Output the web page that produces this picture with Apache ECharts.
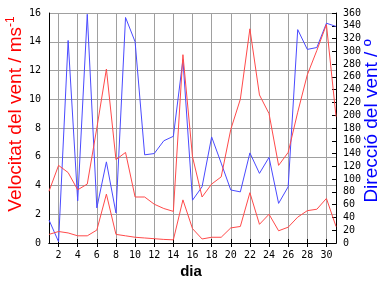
<!DOCTYPE html>
<html><head><meta charset="utf-8">
<script src="https://cdn.jsdelivr.net/npm/echarts@6/dist/echarts.min.js"></script>
<style>html,body{margin:0;padding:0;background:#fff}#c{width:384px;height:288px}</style>
</head><body><div id="c"></div>
<script>
// Day of month
const days = [1,2,3,4,5,6,7,8,9,10,11,12,13,14,15,16,17,18,19,20,21,22,23,24,25,26,27,28,29,30,31];
// Maximum wind speed (m/s)
const maxWind = [3.6,5.4,4.9,3.7,4.1,8.0,12.1,5.8,6.3,3.2,3.2,2.7,2.4,2.2,13.1,6.0,3.2,4.1,4.6,7.9,10.0,14.9,10.3,9.0,5.4,6.3,9.1,11.7,13.4,15.2,8.8];
// Mean wind speed (m/s)
const meanWind = [0.6,0.8,0.7,0.5,0.5,0.9,3.4,0.6,0.5,0.4,0.35,0.3,0.25,0.22,3.0,1.0,0.28,0.4,0.4,1.05,1.15,3.5,1.3,2.0,0.85,1.1,1.8,2.25,2.35,3.1,1.15];
// Wind direction (degrees)
const direction = [36,2,317,66,358,55,127,47,353,315,138,140,160,167,287,67,88,166,125,83,80,141,109,134,62,88,334,303,306,344,339];

const leftTitle = 'Velocitat del vent / ms';
const leftTitleSup = '-1';
const rightTitle = 'Direcció del vent / º';
const xTitle = 'dia';

const RED = '#ff4a4a', BLUE = '#4a4aff', GRIDC = '#a0a0a0';
const even = (i, v) => Number(v) % 2 === 0;
const mono = 'DejaVu Sans Mono';

const chart = echarts.init(document.getElementById('c'), null, {renderer: 'canvas'});
chart.setOption({
  animation: false,
  backgroundColor: '#fff',
  grid: {left: 49, right: 48, top: 13, bottom: 45, containLabel: false},
  xAxis: [{
    type: 'category', data: days, boundaryGap: false, position: 'bottom',
    axisLine: {show: true, lineStyle: {color: '#000', width: 1}},
    axisTick: {show: true, inside: true, length: 4, interval: even, lineStyle: {color: '#000'}},
    axisLabel: {interval: even, color: '#000', fontFamily: mono, fontSize: 10, margin: 7},
    splitLine: {show: true, interval: even, lineStyle: {color: GRIDC, width: 1}}
  }, {
    type: 'category', data: days, boundaryGap: false, position: 'top',
    axisLine: {show: true, lineStyle: {color: '#000', width: 1}},
    axisTick: {show: true, inside: true, length: 4, interval: even, lineStyle: {color: '#000'}},
    axisLabel: {show: false},
    splitLine: {show: false}
  }],
  yAxis: [{
    type: 'value', min: 0, max: 16, interval: 2, position: 'left',
    axisLine: {show: true, lineStyle: {color: '#000', width: 1}},
    axisTick: {show: false},
    axisLabel: {color: '#000', fontFamily: mono, fontSize: 10, margin: 8},
    splitLine: {show: true, lineStyle: {color: GRIDC, width: 1}}
  }, {
    type: 'value', min: 0, max: 360, interval: 20, position: 'right',
    axisLine: {show: true, lineStyle: {color: '#000', width: 1}},
    axisTick: {show: true, inside: true, length: 4, lineStyle: {color: '#000'}},
    axisLabel: {color: '#000', fontFamily: mono, fontSize: 10, margin: 7},
    splitLine: {show: false}
  }],
  series: [{
    name: 'max', type: 'line', data: maxWind, yAxisIndex: 0, symbol: 'none',
    lineStyle: {color: RED, width: 1}, z: 3
  }, {
    name: 'mean', type: 'line', data: meanWind, yAxisIndex: 0, symbol: 'none',
    lineStyle: {color: RED, width: 1}, z: 3
  }, {
    name: 'dir', type: 'line', data: direction, yAxisIndex: 1, symbol: 'none',
    lineStyle: {color: BLUE, width: 1}, z: 2
  }],
  graphic: [{
    type: 'text', x: 15, y: 114, rotation: Math.PI / 2,
    style: {
      text: '{a|' + leftTitle + '}{b|' + leftTitleSup + '}',
      align: 'center', verticalAlign: 'middle',
      rich: {
        a: {fontFamily: 'Liberation Sans', fontSize: 19, fill: '#ff0000', lineHeight: 20, verticalAlign: 'bottom'},
        b: {fontFamily: 'Liberation Sans', fontSize: 12, fill: '#ff0000', lineHeight: 20, verticalAlign: 'top'}
      }
    }
  }, {
    type: 'text', x: 372, y: 121, rotation: Math.PI / 2,
    style: {text: rightTitle, align: 'center', verticalAlign: 'middle',
      fontFamily: 'Liberation Sans', fontSize: 19, fill: '#0000ff'}
  }, {
    type: 'text', x: 191, y: 272,
    style: {text: xTitle, align: 'center', verticalAlign: 'middle',
      fontFamily: 'Liberation Sans', fontSize: 15, fontWeight: 'bold', fill: '#000'}
  }]
});
</script></body></html>
